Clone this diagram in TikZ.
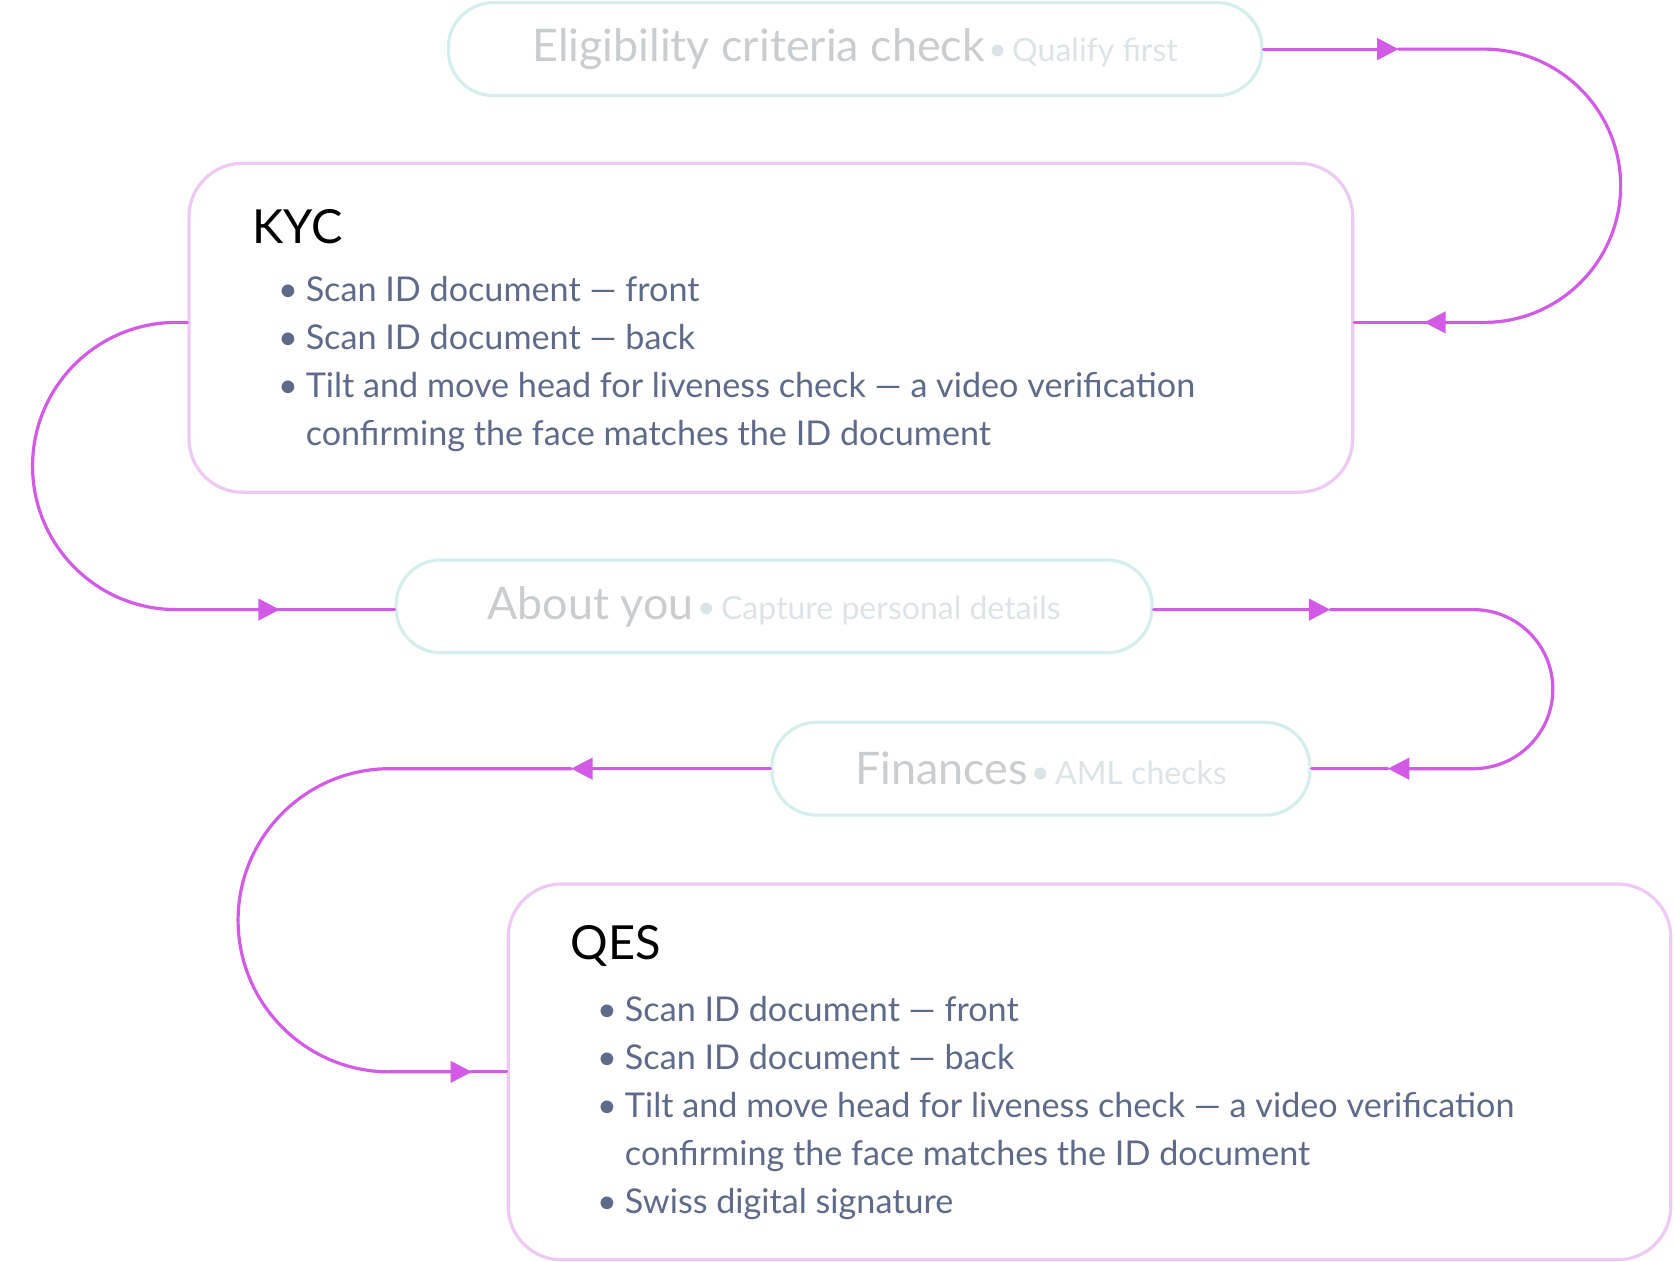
\documentclass[tikz,border=0pt]{standalone}
\usepackage{fontspec}
\setmainfont{Lato}
\usetikzlibrary{arrows.meta}
\definecolor{flowc}{HTML}{D35AE6}
\definecolor{pillline}{HTML}{D3EEEC}
\definecolor{boxline}{HTML}{EDC9F4}
\definecolor{dimtext}{HTML}{C9CDD0}
\definecolor{dimsub}{HTML}{DCE3E6}
\definecolor{bodytext}{HTML}{5E6A89}
\begin{document}
\begin{tikzpicture}[x=0.5pt, y=0.5pt, line cap=round,
  pill/.style={draw=pillline, line width=1.5pt, rounded corners=21pt, inner sep=0pt},
  card/.style={draw=boxline, line width=1.5pt, rounded corners=25pt, inner sep=0pt},
  flow/.style={draw=flowc, line width=1.5pt},
  tip/.style={flow, -{Triangle[length=10pt,width=10pt]}},
  head/.style={font=\fontsize{22}{26}\selectfont, anchor=west, inner sep=0pt},
  item/.style={font=\fontsize{16}{22.5}\selectfont, text=bodytext, anchor=base west, inner sep=0pt}]

\useasboundingbox (0,0) rectangle (1568,-1182);

% --- layout helpers ---
\newcommand{\pilltext}[2]{{\fontsize{21}{24}\selectfont\color{dimtext}#1}\,{\fontsize{15}{18}\selectfont\color{dimsub}\raisebox{0.5pt}{\textbullet}\,#2}}
\newcommand{\bitem}[3]{% x, y, text
  \node[item] at (#1-26,#2) {\textbullet};
  \node[item] at (#1,#2) {#3};
}

% --- pills ---
\node[pill, minimum width=381pt, minimum height=43.5pt] (elig) at (801,-46) {\pilltext{Eligibility criteria check}{Qualify first}};
\node[pill, minimum width=354pt, minimum height=43.5pt] (about) at (725,-568) {\pilltext{About you}{Capture personal details}};
\node[pill, minimum width=252pt, minimum height=43.5pt] (fin) at (975,-720) {\pilltext{Finances}{AML checks}};

% --- cards ---
\node[card, minimum width=545pt, minimum height=154pt] (kyc) at (722,-307) {};
\node[head] at (236,-212) {KYC};
\bitem{286}{-282}{Scan ID document — front}
\bitem{286}{-327}{Scan ID document — back}
\bitem{286}{-372}{Tilt and move head for liveness check — a video verification}
\node[item] at (286,-417) {confirming the face matches the ID document};

\node[card, minimum width=544.5pt, minimum height=176pt] (qes) at (1020.5,-1004) {};
\node[head] at (534,-886) {QES};
\bitem{585}{-957}{Scan ID document — front}
\bitem{585}{-1002}{Scan ID document — back}
\bitem{585}{-1047}{Tilt and move head for liveness check — a video verification}
\node[item] at (585,-1092) {confirming the face matches the ID document};
\bitem{585}{-1137}{Swiss digital signature}

% --- connectors ---
\coordinate (a1) at (1310,-46);
\coordinate (a2) at (1340,-302);
\draw[tip] (elig.east) -- (a1);
\draw[flow] (a1) -- (1390,-46) arc[start angle=90, end angle=-90, radius=128] -- (a2);
\draw[tip] (1390,-302) -- (a2) -- ++(-6,0);
\draw[flow] (a2) -- (kyc.east |- a2);

\coordinate (b1) at (262,-571);
\draw[flow] (kyc.west |- 0,-302) -- (165,-302) arc[start angle=90, end angle=270, radius=134.5] -- (b1);
\draw[tip] (165,-571) -- (b1);
\draw[flow] (b1) -- (about.west |- b1);

\coordinate (c1) at (1246,-571);
\coordinate (c2) at (1300,-720);
\draw[tip] (about.east |- c1) -- (c1);
\draw[flow] (c1) -- (1380,-571) arc[start angle=90, end angle=-90, radius=74.5] -- (1318,-720);
\draw[tip] (1380,-720) -- (c2);
\draw[flow] (c2) -- (fin.east);

\coordinate (d1) at (535,-720);
\coordinate (d2) at (442,-1004);
\draw[tip] (fin.west) -- (d1);
\draw[flow] (d1) -- (365,-720) arc[start angle=90, end angle=270, radius=142] -- (d2);
\draw[tip] (365,-1004) -- (d2);
\draw[flow] (d2) -- (qes.west);
\end{tikzpicture}
\end{document}
